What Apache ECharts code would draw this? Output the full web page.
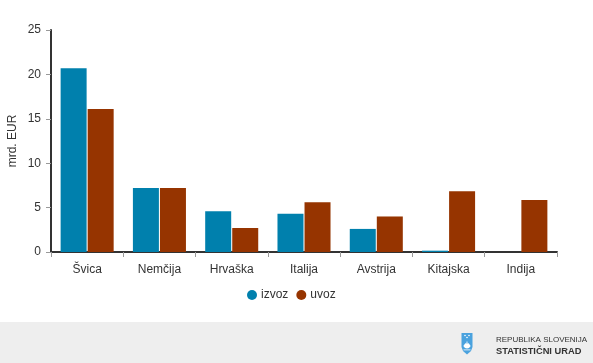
<!DOCTYPE html>
<html><head><meta charset="utf-8">
<script src="https://cdn.jsdelivr.net/npm/echarts@6/dist/echarts.min.js"></script>
<style>html,body{margin:0;padding:0;background:#fff}#c{width:593px;height:363px}</style>
</head><body><div id="c"></div>
<script>
const categories = ['Švica','Nemčija','Hrvaška','Italija','Avstrija','Kitajska','Indija'];
const izvoz = [20.7, 7.2, 4.6, 4.3, 2.6, 0.15, 0];
const uvoz = [16.1, 7.2, 2.7, 5.6, 4.0, 6.85, 5.85];
const seriesNames = ['izvoz','uvoz'];
const yTicks = [0,5,10,15,20,25];

const chart = echarts.init(document.getElementById('c'), null, {renderer:'canvas'});
const font = 'Liberation Sans, Arial, sans-serif';
chart.setOption({
  animation:false,
  textStyle:{fontFamily:font},
  grid:{left:51,right:36,top:30,bottom:111,containLabel:false,outerBoundsMode:'none'},
  legend:{
    data:seriesNames, left:242, top:284, icon:'circle', itemWidth:10, itemHeight:10, itemGap:8,
    textStyle:{fontSize:12,color:'#333',fontFamily:font,padding:[0,0,0,-1]}
  },
  xAxis:{
    type:'category', data:categories,
    axisLine:{lineStyle:{color:'#333',width:2}},
    axisTick:{show:true,length:5,lineStyle:{color:'#999'}},
    axisLabel:{fontSize:12,color:'#333',margin:12,fontFamily:font}
  },
  yAxis:{
    type:'value', min:yTicks[0], max:yTicks[yTicks.length-1], interval:5,
    name:'mrd. EUR', nameLocation:'middle', nameGap:32, nameRotate:90, nameMoveOverlap:false,
    nameTextStyle:{fontSize:12,color:'#333',fontFamily:font},
    axisLine:{show:true,lineStyle:{color:'#333',width:2}},
    axisTick:{show:true,length:5,lineStyle:{color:'#999'}},
    axisLabel:{fontSize:12,color:'#333',margin:10,fontFamily:font},
    splitLine:{show:false}
  },
  series:[
    {name:seriesNames[0],type:'bar',data:izvoz,barWidth:26,barGap:'4%',itemStyle:{color:'#0080ad'}},
    {name:seriesNames[1],type:'bar',data:uvoz,barWidth:26,barGap:'4%',itemStyle:{color:'#963400'}}
  ],
  graphic:[
    {type:'rect',shape:{x:0,y:322,width:593,height:41},style:{fill:'#eeeeee'},z:-1},
    {type:'polygon',shape:{points:[[461.5,333],[472.5,333],[472.5,347],[471,351],[467,354.5],[463,351],[461.5,347]]},style:{fill:'#4aa2de'}},
    {type:'polygon',shape:{points:[[463.3,346],[465.5,343],[466.2,344],[467,340.5],[467.8,344],[468.5,343],[470.7,346],[469,348],[467,348.5],[465,348]]},style:{fill:'#ffffff'}},
    {type:'rect',shape:{x:463.5,y:349.5,width:7,height:0.8},style:{fill:'#ffffff'}},
    {type:'circle',shape:{cx:465,cy:335.5,r:0.8},style:{fill:'#ffffff'}},
    {type:'circle',shape:{cx:469,cy:335.5,r:0.8},style:{fill:'#ffffff'}},
    {type:'circle',shape:{cx:467,cy:337.5,r:0.8},style:{fill:'#ffffff'}},
    {type:'text',x:496,y:336,style:{text:'REPUBLIKA SLOVENIJA',fontSize:8,fill:'#333',fontFamily:font}},
    {type:'text',x:496,y:347,style:{text:'STATISTIČNI URAD',fontSize:9.3,fontWeight:'bold',fill:'#333',fontFamily:font}}
  ]
});
</script></body></html>
